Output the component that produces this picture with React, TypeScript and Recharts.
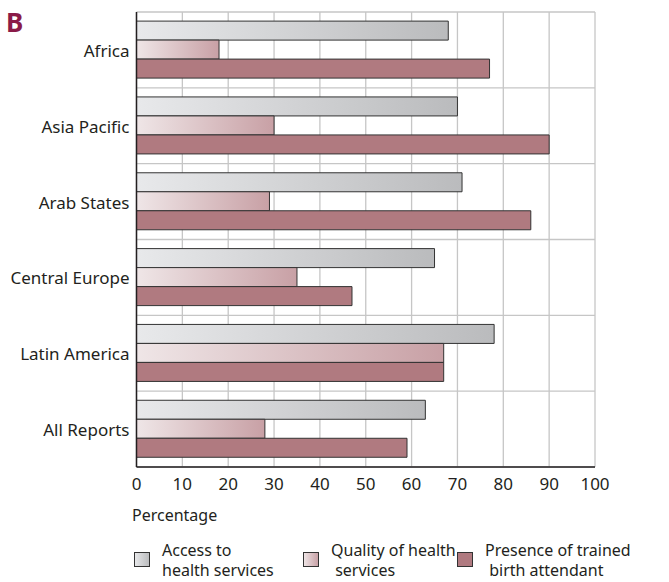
import { BarChart, Bar, XAxis, YAxis, CartesianGrid } from "recharts";

const regions = [
  "Africa",
  "Asia Pacific",
  "Arab States",
  "Central Europe",
  "Latin America",
  "All Reports",
];
const accessValues = [68, 70, 71, 65, 78, 63];
const qualityValues = [18, 30, 29, 35, 67, 28];
const attendantValues = [77, 90, 86, 47, 67, 59];
const xTicks = [0, 10, 20, 30, 40, 50, 60, 70, 80, 90, 100];

const series = [
  {
    key: "access",
    lines: ["Access to", "health services"],
    from: "#e8e9eb",
    to: "#babbbd",
    width: 169,
  },
  {
    key: "quality",
    lines: ["Quality of health", " services"],
    from: "#efe6e7",
    to: "#c8a0a5",
    width: 154,
  },
  {
    key: "attendant",
    lines: ["Presence of trained", " birth attendant"],
    from: "#b07a80",
    to: "#b07a80",
    width: 200,
  },
];

const chartData = regions.map((region, i) => ({
  region,
  access: accessValues[i],
  quality: qualityValues[i],
  attendant: attendantValues[i],
}));

const FONT = "'Noto Sans', 'DejaVu Sans', sans-serif";
const INK = "#231f20";

function ChartLegend() {
  return (
    <div
      style={{
        position: "absolute",
        left: 134,
        top: 540,
        display: "flex",
        fontFamily: FONT,
        fontSize: 16,
        lineHeight: "20px",
        color: INK,
      }}
    >
      {series.map((s) => (
        <div key={s.key} style={{ display: "flex", width: s.width }}>
          <svg width={17} height={16} style={{ marginTop: 12, flex: "none" }}>
            <defs>
              <linearGradient id={`lg-${s.key}`} x1="0" y1="0" x2="1" y2="0">
                <stop offset="0%" stopColor={s.from} />
                <stop offset="100%" stopColor={s.to} />
              </linearGradient>
            </defs>
            <rect
              x={0.5}
              y={0.5}
              width={15}
              height={14}
              fill={`url(#lg-${s.key})`}
              stroke="#333"
            />
          </svg>
          <div style={{ marginLeft: 11, whiteSpace: "pre" }}>
            {s.lines.map((l) => (
              <div key={l}>{l}</div>
            ))}
          </div>
        </div>
      ))}
    </div>
  );
}

export default function App() {
  return (
    <div
      style={{
        position: "absolute",
        left: 0,
        top: 0,
        width: 669,
        height: 582,
        background: "#fff",
        fontFamily: FONT,
      }}
    >
      <div
        style={{
          position: "absolute",
          left: 6,
          top: 9,
          fontSize: 26,
          lineHeight: 1,
          fontWeight: 700,
          color: "#8a1a48",
        }}
      >
        B
      </div>
      <BarChart
        width={669}
        height={582}
        data={chartData}
        layout="vertical"
        margin={{ top: 12, right: 74, left: 0, bottom: 85 }}
        barCategoryGap="12%"
        barGap={0}
      >
        <defs>
          {series.map((s) => (
            <linearGradient key={s.key} id={`g-${s.key}`} x1="0" y1="0" x2="1" y2="0">
              <stop offset="0%" stopColor={s.from} />
              <stop offset="100%" stopColor={s.to} />
            </linearGradient>
          ))}
        </defs>
        <CartesianGrid
          stroke="#c6c6c6"
          strokeWidth={1.3}
          horizontalCoordinatesGenerator={({ offset }: any) =>
            [...regions, ""].map(
              (_, i) => offset.top + (offset.height * i) / regions.length
            )
          }
        />
        <XAxis
          type="number"
          domain={[0, 100]}
          ticks={xTicks}
          height={30}
          tickLine={false}
          tickSize={0}
          tickMargin={11}
          axisLine={{ stroke: INK, strokeWidth: 1.5 }}
          tick={{ fill: INK, fontSize: 17, fontFamily: FONT }}
        />
        <YAxis
          type="category"
          dataKey="region"
          width={136.5}
          tickLine={false}
          tickSize={0}
          tickMargin={7}
          axisLine={{ stroke: INK, strokeWidth: 1.5 }}
          tick={{ fill: INK, fontSize: 17, fontFamily: FONT, dy: 1 }}
        />
        {series.map((s) => (
          <Bar
            key={s.key}
            dataKey={s.key}
            fill={`url(#g-${s.key})`}
            stroke="#333"
            strokeWidth={1}
            isAnimationActive={false}
          />
        ))}
      </BarChart>
      <div
        style={{
          position: "absolute",
          left: 132,
          top: 504,
          fontSize: 16,
          color: INK,
        }}
      >
        Percentage
      </div>
      <ChartLegend />
    </div>
  );
}
